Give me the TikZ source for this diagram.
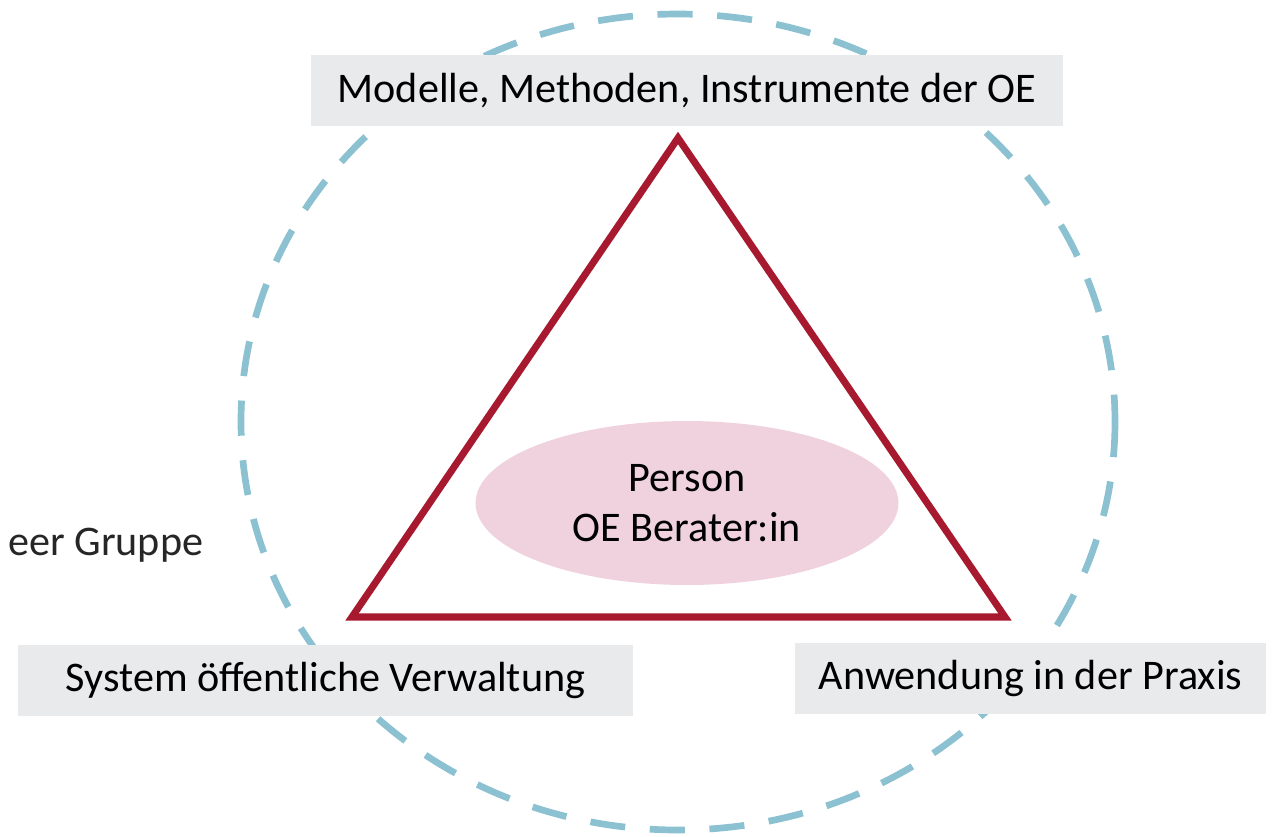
\documentclass[tikz,border=0pt]{standalone}
\usepackage{fontspec}
\setmainfont{Carlito}
\usetikzlibrary{shapes.geometric}
\definecolor{circleblue}{HTML}{8BC1D0}
\definecolor{triared}{HTML}{A6192E}
\definecolor{personpink}{HTML}{EFD2DE}
\definecolor{boxgrey}{HTML}{E9EAEC}
\tikzset{
  label box/.style={fill=boxgrey, inner sep=0pt, minimum height=1.42cm,
    font=\fontsize{24}{29}\selectfont},
}
\begin{document}
\begin{tikzpicture}[x=0.02cm, y=-0.02cm]
            \useasboundingbox (0,0) rectangle (1276,836);

            % Circle
            \draw [circleblue, line width=3.8pt, dash pattern=on 20pt off 14pt]
                (678,422) ellipse [x radius=437, y radius=408];

            % Label boxes
            \node [label box, minimum width=15.04cm] (methods) at (687,90.5) {Modelle, Methoden, Instrumente der OE};
            \node [label box, minimum width=12.3cm] (system) at (325.5,680.5) {System öffentliche Verwaltung};
            \node [label box, minimum width=9.42cm] (practice) at (1030.5,678.5) {Anwendung in der Praxis};
            \node [anchor=west, font=\fontsize{24}{29}\selectfont, text=black!85] (peer) at (2,545) {eer Gruppe};

            % Person
            \node [ellipse, fill=personpink, minimum width=8.46cm, minimum height=3.28cm,
                align=center, font=\fontsize{24}{28.5}\selectfont] (person) at (687,503) {Person\\OE Berater:in};

            % Triangle
            \coordinate (top) at (678,138);
            \coordinate (left) at (352,617);
            \coordinate (right) at (1005,617);
            \draw [triared, line width=4pt, line join=miter] (top) -- (right) -- (left) -- cycle;
        \end{tikzpicture}
\end{document}
